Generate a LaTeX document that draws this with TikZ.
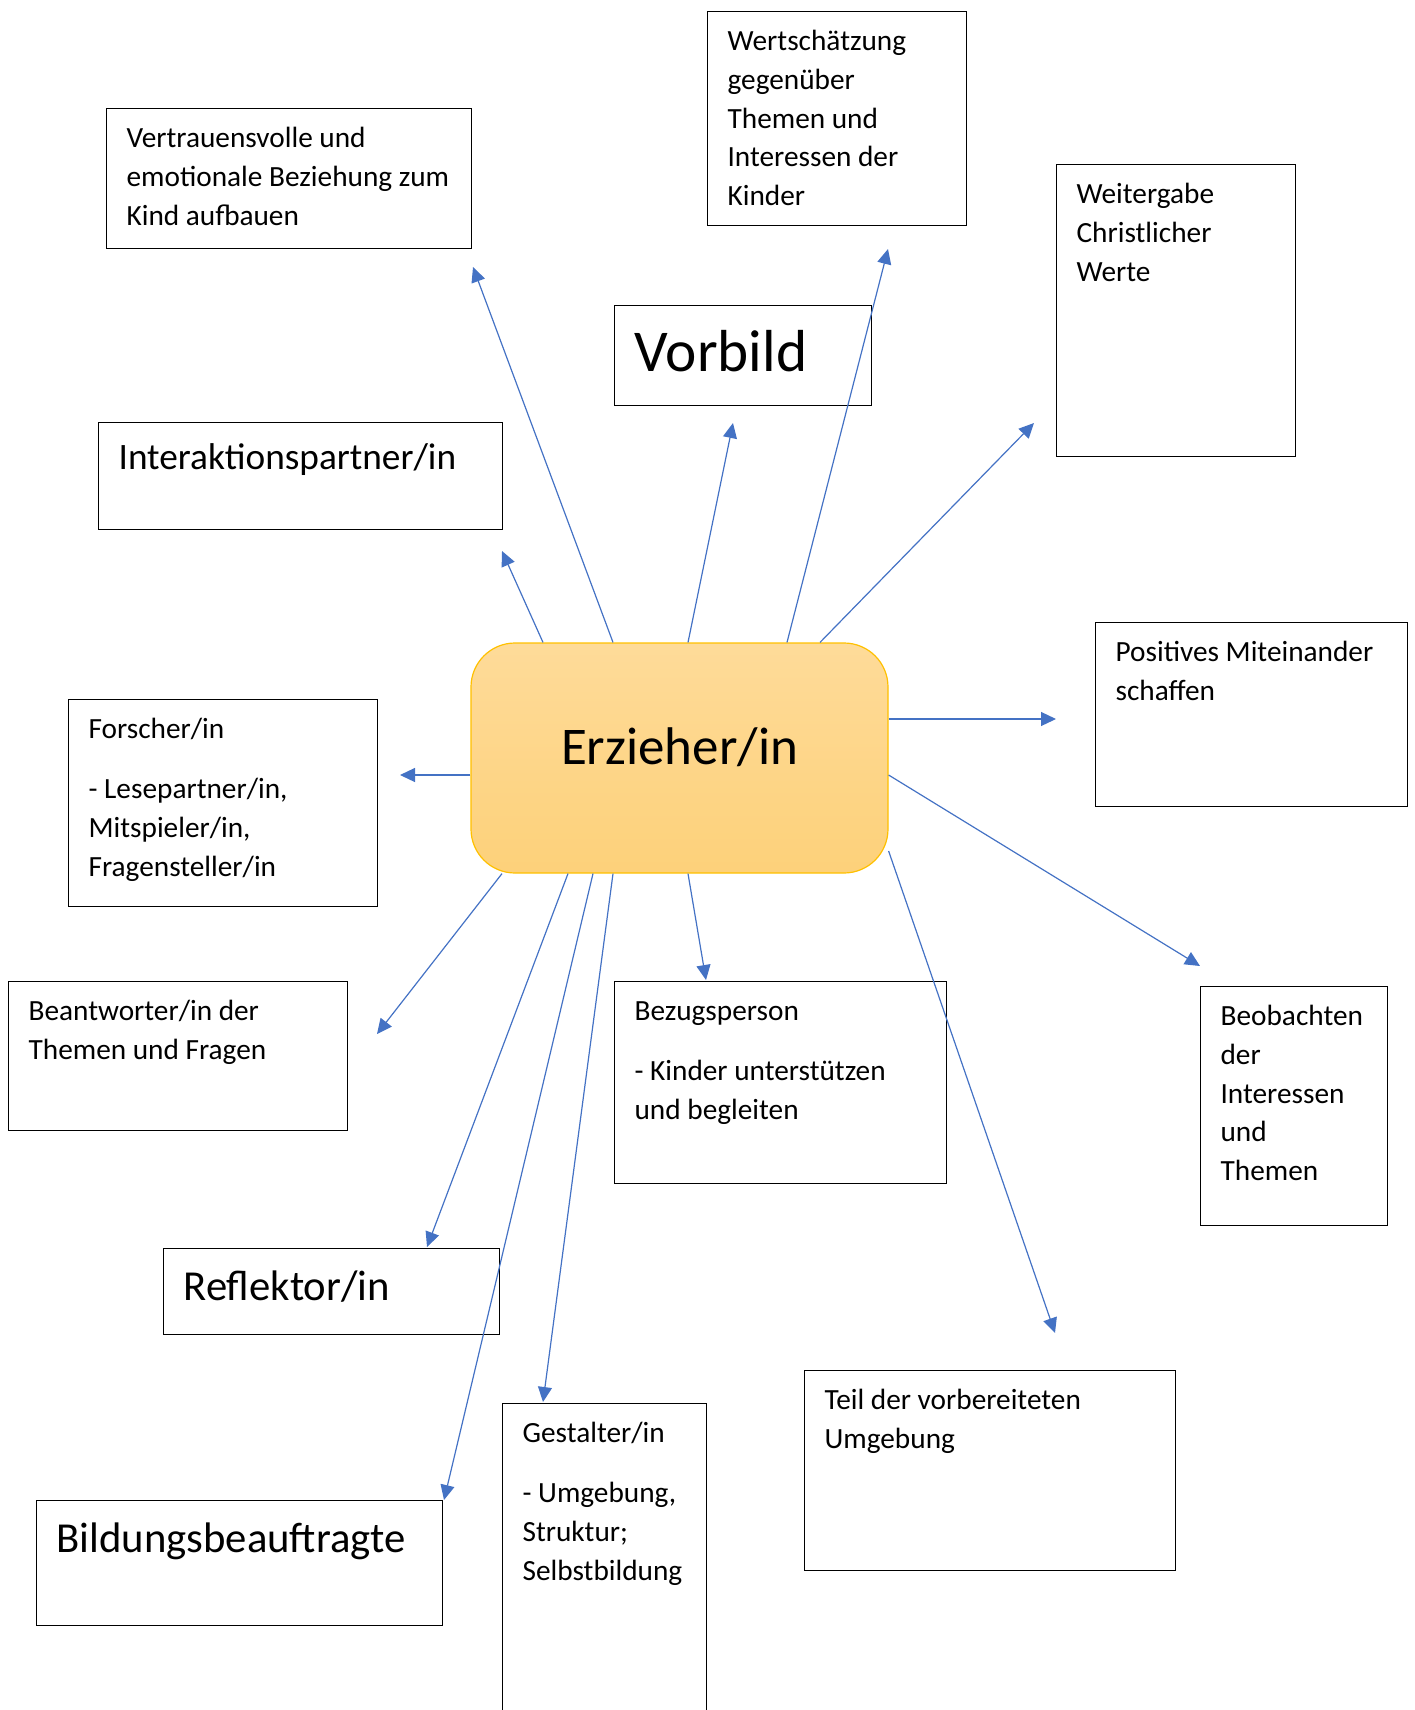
\documentclass[tikz,border=0pt]{standalone}
\usepackage{fontspec}
\setmainfont{Carlito}
\usetikzlibrary{arrows.meta}

\definecolor{arrowblue}{HTML}{4472C4}
\definecolor{centerborder}{HTML}{FFC000}
\definecolor{centertop}{HTML}{FEDB99}
\definecolor{centerbottom}{HTML}{FDD17A}

\newcommand{\bodysize}{\fontsize{29.3}{38.7}\selectfont}
\newcommand{\largesize}{\fontsize{37.3}{45}\selectfont}
\newcommand{\biggersize}{\fontsize{42.7}{51}\selectfont}
% #1 first baseline, #2 width, #3 height, #4 text
\newcommand{\boxtext}[4][39pt]{\parbox[c][#3][t]{#2}{\raggedright\leftskip=20pt\parskip=21.3pt\rule{0pt}{#1}#4}}

\begin{document}
\begin{tikzpicture}[x=1pt, y=-1pt,
    rolebox/.style={draw, line width=1.2pt, inner sep=0pt, anchor=north west, font=\bodysize},
    rolelarge/.style={rolebox, font=\largesize},
    rolebigger/.style={rolebox, font=\biggersize},
    mainbox/.style={draw=centerborder, line width=1.2pt, rounded corners=44pt,
        top color=centertop, bottom color=centerbottom,
        minimum width=417pt, minimum height=230pt,
        font=\fontsize{53}{64}\selectfont, text height=30pt, text depth=18pt},
    roleline/.style={arrowblue, line width=1.2pt, -{Triangle[length=15pt, width=14pt]}}]

    \useasboundingbox (0,0) rectangle (1415,1710);
    \clip (0,0) rectangle (1415,1710);

    % Center node
    \node[mainbox] (erzieher) at (679.5,758) {Erzieher/in};

    % Upper boxes
    \node[rolebox] (vertrauen) at (106,108) {\boxtext{365pt}{140pt}{Vertrauensvolle und\\ emotionale Beziehung zum\\ Kind aufbauen}};
    \node[rolebox] (wertschaetzung) at (707,11) {\boxtext{259pt}{214pt}{Wertschätzung\\ gegenüber\\ Themen und\\ Interessen der\\ Kinder}};
    \node[rolebox] (weitergabe) at (1056,164) {\boxtext{239pt}{292pt}{Weitergabe\\ Christlicher\\ Werte}};
    \node[rolebox, font=\fontsize{59.3}{70}\selectfont] (vorbild) at (614,305) {\boxtext[66pt]{257pt}{100pt}{Vorbild}};
    \node[rolelarge] (interaktion) at (98,422) {\boxtext[47pt]{404pt}{107pt}{Interaktionspartner/in}};

    % Side boxes
    \node[rolebox] (positiv) at (1095,622) {\boxtext{312pt}{184pt}{Positives Miteinander\\ schaffen}};
    \node[rolebox] (forscher) at (68,699) {\boxtext{309pt}{207pt}{Forscher/in\par - Lesepartner/in,\\ Mitspieler/in,\\ Fragensteller/in}};
    \node[rolebox] (beantworter) at (8,981) {\boxtext{339pt}{149pt}{Beantworter/in der\\ Themen und Fragen}};
    \node[rolebox] (bezug) at (614,981) {\boxtext{332pt}{202pt}{Bezugsperson\par - Kinder unterstützen\\ und begleiten}};
    \node[rolebox] (beobachten) at (1200,986) {\boxtext{187pt}{239pt}{Beobachten\\ der\\ Interessen\\ und\\ Themen}};

    % Lower boxes
    \node[rolebigger] (reflektor) at (163,1248) {\boxtext[52pt]{336pt}{86pt}{Reflektor/in}};
    \node[rolebigger] (bildung) at (36,1500) {\boxtext[52pt]{406pt}{125pt}{Bildungsbeauftragte}};
    \node[rolebox] (gestalter) at (502,1403) {\boxtext{204pt}{330pt}{Gestalter/in\par - Umgebung,\\ Struktur;\\ Selbstbildung}};
    \node[rolebox] (umgebung) at (804,1370) {\boxtext{371pt}{200pt}{Teil der vorbereiteten\\ Umgebung}};

    % Arrow tips
    \coordinate (tipvertrauen) at (473,267);
    \coordinate (tipvorbild) at (733,423);
    \coordinate (tipwert) at (888,249);
    \coordinate (tipweitergabe) at (1034,423);
    \coordinate (tipinteraktion) at (502,551);
    \coordinate (tippositiv) at (1056,719);
    \coordinate (tipforscher) at (400,775);
    \coordinate (tipbeobachten) at (1200,966);
    \coordinate (tipbeantworter) at (377,1034);
    \coordinate (tipbezug) at (706,980);
    \coordinate (tipreflektor) at (427,1247);
    \coordinate (tipbildung) at (444,1500);
    \coordinate (tipgestalter) at (543,1402);
    \coordinate (tipumgebung) at (1055,1333);

    % Arrows from the center
    \draw[roleline] ([xshift=-66.5pt]erzieher.north) -- (tipvertrauen);
    \draw[roleline] ([xshift=8.5pt]erzieher.north) -- (tipvorbild);
    \draw[roleline] ([xshift=107.5pt]erzieher.north) -- (tipwert);
    \draw[roleline] ([xshift=140.5pt]erzieher.north) -- (tipweitergabe);
    \draw[roleline] ([xshift=-136.5pt]erzieher.north) -- (tipinteraktion);
    \draw[roleline] ([yshift=39pt]erzieher.east) -- (tippositiv);
    \draw[roleline] ([yshift=-17pt]erzieher.west) -- (tipforscher);
    \draw[roleline] ([yshift=-17pt]erzieher.east) -- (tipbeobachten);
    \draw[roleline] ([xshift=-177.5pt]erzieher.south) -- (tipbeantworter);
    \draw[roleline] ([xshift=8.5pt]erzieher.south) -- (tipbezug);
    \draw[roleline] ([xshift=-111.5pt]erzieher.south) -- (tipreflektor);
    \draw[roleline] ([xshift=-86.5pt]erzieher.south) -- (tipbildung);
    \draw[roleline] ([xshift=-66.5pt]erzieher.south) -- (tipgestalter);
    \draw[roleline] ([yshift=-93pt]erzieher.east) -- (tipumgebung);
\end{tikzpicture}
\end{document}
